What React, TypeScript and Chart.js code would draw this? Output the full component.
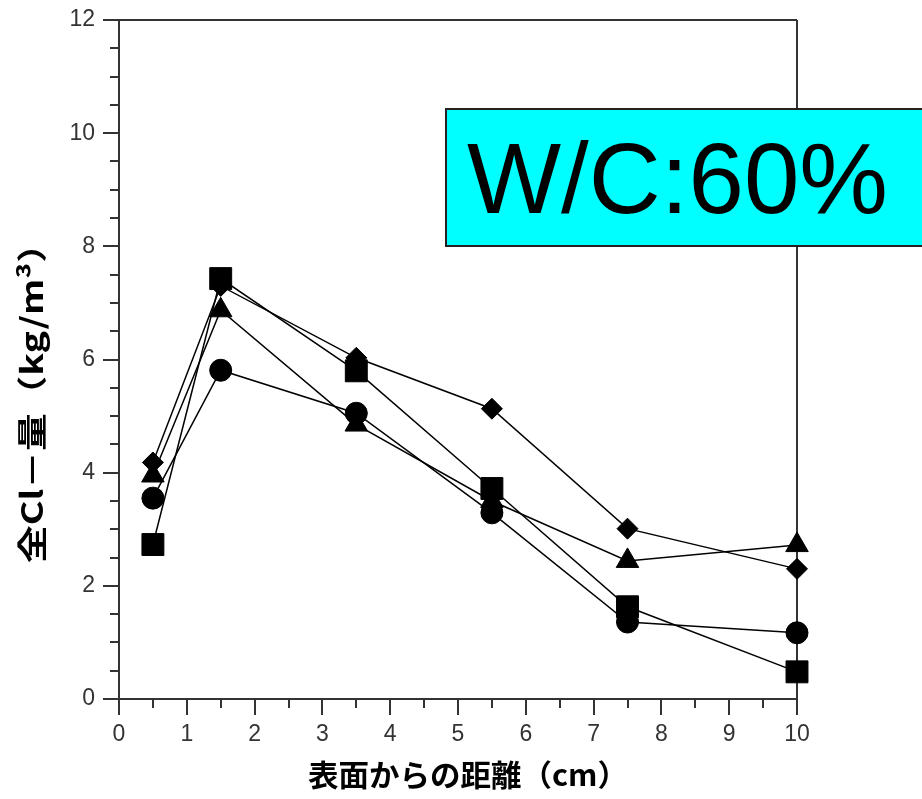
import React, { useEffect, useRef } from "react";
import { Chart, registerables } from "chart.js";

Chart.register(...registerables);

const distances = [0.5, 1.5, 3.5, 5.5, 7.5, 10];
const squareSeries = [2.73, 7.43, 5.8, 3.72, 1.63, 0.48];
const diamondSeries = [4.18, 7.3, 6.03, 5.13, 3.01, 2.3];
const triangleSeries = [3.95, 6.87, 4.85, 3.5, 2.44, 2.72];
const circleSeries = [3.55, 5.81, 5.05, 3.29, 1.36, 1.17];

const xTitle = "表面からの距離（cm）";
const yTitle = "全Cl－量（kg/m³）";
const boxLabel = "W/C:60%";

const toPoints = (ys: number[]) => distances.map((x, i) => ({ x, y: ys[i] }));

const fitText = (ctx: CanvasRenderingContext2D, text: string, target: number) => {
  const w = ctx.measureText(text).width;
  ctx.scale(target / w, 1);
  ctx.fillText(text, 0, 0);
};

const framePlugin = {
  id: "frame",
  beforeDatasetsDraw(chart: any) {
    const { ctx, chartArea, scales } = chart;
    const xs = scales.x;
    const ys = scales.y;
    const l = chartArea.left, r = chartArea.right, t = chartArea.top, b = chartArea.bottom;
    ctx.save();
    ctx.strokeStyle = "#333";
    ctx.lineWidth = 2;
    ctx.lineCap = "butt";
    ctx.beginPath();
    ctx.moveTo(l - 16, t); ctx.lineTo(r, t);
    ctx.moveTo(r, t); ctx.lineTo(r, b + 16);
    ctx.moveTo(l, t); ctx.lineTo(l, b + 16);
    ctx.moveTo(l - 16, b); ctx.lineTo(r, b);
    for (let v = 0; v <= 12.001; v += 0.5) {
      const py = Math.round(ys.getPixelForValue(v));
      const major = Math.abs(v % 2) < 1e-6;
      ctx.moveTo(l - (major ? 16 : 9), py);
      ctx.lineTo(l, py);
    }
    for (let v = 0; v <= 10.001; v += 0.5) {
      const px = Math.round(xs.getPixelForValue(v));
      const major = Math.abs(v % 1) < 1e-6;
      ctx.moveTo(px, b);
      ctx.lineTo(px, b + (major ? 16 : 9));
    }
    ctx.stroke();

    ctx.fillStyle = "#000";
    ctx.textAlign = "center";
    ctx.textBaseline = "middle";

    ctx.save();
    ctx.translate(468, 775);
    ctx.font = "bold 30px 'Noto Sans CJK JP'";
    fitText(ctx, xTitle, 320);
    ctx.restore();

    ctx.save();
    ctx.translate(32, 394);
    ctx.rotate(-Math.PI / 2);
    ctx.font = "bold 30px 'Noto Sans CJK JP'";
    fitText(ctx, yTitle, 338);
    ctx.restore();
    ctx.restore();
  },
  afterDraw(chart: any) {
    const { ctx } = chart;
    ctx.save();
    ctx.fillStyle = "#00FFFF";
    ctx.fillRect(446, 109, 480, 137);
    ctx.strokeStyle = "#222";
    ctx.lineWidth = 2;
    ctx.strokeRect(446, 109, 480, 137);
    ctx.fillStyle = "#000";
    ctx.font = "100px 'Liberation Sans'";
    ctx.textAlign = "left";
    ctx.textBaseline = "alphabetic";
    ctx.translate(467, 213);
    fitText(ctx, boxLabel, 421);
    ctx.restore();
  },
};

export default function App() {
  const ref = useRef<HTMLCanvasElement>(null);
  useEffect(() => {
    const common = {
      borderColor: "#000",
      backgroundColor: "#000",
      pointBackgroundColor: "#000",
      pointBorderColor: "#000",
      borderWidth: 1.5,
      pointBorderWidth: 1,
      showLine: true,
      clip: false as any,
    };
    const chart = new Chart(ref.current!, {
      type: "scatter",
      data: {
        datasets: [
          { ...common, label: "square", data: toPoints(squareSeries), pointStyle: "rect", pointRadius: 15.5 },
          { ...common, label: "circle", data: toPoints(circleSeries), pointStyle: "circle", pointRadius: 11 },
          { ...common, label: "triangle", data: toPoints(triangleSeries), pointStyle: "triangle", pointRadius: 13 },
          { ...common, label: "diamond", data: toPoints(diamondSeries), pointStyle: "rectRot", pointRadius: 10.5 },
        ],
      },
      options: {
        animation: false,
        responsive: false,
        events: [],
        layout: { padding: { left: 0, right: 125, top: 20, bottom: 0 } },
        plugins: { legend: { display: false }, tooltip: { enabled: false } },
        scales: {
          x: {
            type: "linear",
            min: 0,
            max: 10,
            grid: { display: false, drawTicks: false },
            border: { display: false },
            ticks: { stepSize: 1, padding: 22, color: "#333", font: { family: "'Liberation Sans'", size: 23 }, maxRotation: 0 },
            afterFit: (s: any) => { s.height = 100; s.paddingLeft = 0; s.paddingRight = 0; },
          },
          y: {
            type: "linear",
            min: 0,
            max: 12,
            grid: { display: false, drawTicks: false },
            border: { display: false },
            ticks: { stepSize: 2, padding: 24, color: "#333", font: { family: "'Liberation Sans'", size: 23 } },
            afterFit: (s: any) => { s.width = 119; s.paddingTop = 0; s.paddingBottom = 0; },
          },
        },
      },
      plugins: [framePlugin],
    });
    return () => chart.destroy();
  }, []);
  return (
    <div style={{ position: "fixed", left: 0, top: 0, width: 922, height: 799, background: "#fff" }}>
      <canvas ref={ref} width={922} height={799} style={{ display: "block" }} />
    </div>
  );
}
